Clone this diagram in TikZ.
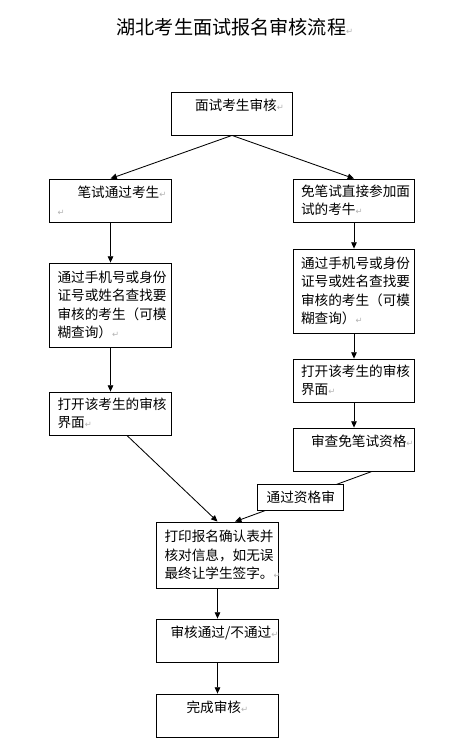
\documentclass[tikz,border=0pt]{standalone}
\usepackage{fontspec}
\setmainfont{Noto Sans CJK SC}
\newfontfamily\symfont{DejaVu Sans}
\usetikzlibrary{arrows.meta}

\newcommand{\absatz}{{\symfont\color{gray!60}\fontsize{6pt}{6pt}\selectfont ↵}}

\tikzset{
    kasten/.style={draw,line width=0.6pt,minimum width=3.025cm,minimum height=1.075cm,
        inner xsep=0.19cm,inner ysep=0.1cm,text width=2.65cm,align=left,
        font=\fontsize{9.7pt}{13pt}\selectfont},
    hoch/.style={minimum height=2.1cm},
    pfeil/.style={line width=0.6pt,-{Triangle[length=4.5pt,width=4pt]}},
    etikett/.style={draw,fill=white,line width=0.6pt,minimum width=2.15cm,minimum height=0.65cm,
        inner sep=1pt,font=\fontsize{9.7pt}{13pt}\selectfont}
}

\begin{document}
\begin{tikzpicture}
        \useasboundingbox (0,0) rectangle (11.475,-18.8);

        % Titel
        \node (titel) at (5.875,-0.675) {\fontsize{13.6pt}{16pt}\selectfont 湖北考生面试报名审核流程\absatz};

        % Start
        \node[kasten] (start) at (5.8,-2.8375) {\hspace*{0.4cm}面试考生审核\absatz\\~};

        % linker Zweig
        \node[kasten] (l1) at (2.7625,-5.0125) {\hspace*{0.5cm}笔试通过考生\absatz\\\absatz};
        \node[kasten,hoch] (l2) at (2.7625,-7.625) {通过手机号或身份\\证号或姓名查找要\\审核的考生（可模\\糊查询）\absatz};
        \node[kasten] (l3) at (2.7625,-10.3375) {打开该考生的审核\\界面\absatz};

        % rechter Zweig
        \node[kasten] (r1) at (8.85,-5.0125) {免笔试直接参加面\\试的考牛\absatz};
        \node[kasten,hoch] (r2) at (8.85,-7.275) {通过手机号或身份\\证号或姓名查找要\\审核的考生（可模\\糊查询）\absatz};
        \node[kasten] (r3) at (8.85,-9.5125) {打开该考生的审核\\界面\absatz};
        \node[kasten] (r4) at (8.85,-11.2375) {\hspace*{0.25cm}审查免笔试资格\absatz\\~};

        % gemeinsamer Teil
        \node[kasten,minimum height=1.65cm] (druck) at (5.4375,-13.875) {打印报名确认表并\\核对信息，如无误\\最终让学生签字。\absatz};
        \node[kasten] (ergebnis) at (5.4375,-16.0125) {\hspace*{0.15cm}审核通过/不通过\absatz\\~};
        \node[kasten] (ende) at (5.4375,-17.8875) {\hspace*{0.55cm}完成审核\absatz\\~};

        % Pfeile
        \draw[pfeil] (start.south) -- (l1.north);
        \draw[pfeil] (start.south) -- (r1.north);
        \draw[pfeil] (l1) -- (l2);
        \draw[pfeil] (l2) -- (l3);
        \draw[pfeil] (r1) -- (r2);
        \draw[pfeil] (r2) -- (r3);
        \draw[pfeil] (r3) -- (r4);
        \draw[pfeil] ([xshift=0.41cm]l3.south) -- (druck.north);
        \draw[pfeil] ([xshift=0.45cm]r4.south) -- node[etikett,pos=0.52] (pruefung) {通过资格审} ([xshift=0.44cm]druck.north);
        \draw[pfeil] (druck) -- (ergebnis);
        \draw[pfeil] (ergebnis) -- (ende);
    \end{tikzpicture}
\end{document}
